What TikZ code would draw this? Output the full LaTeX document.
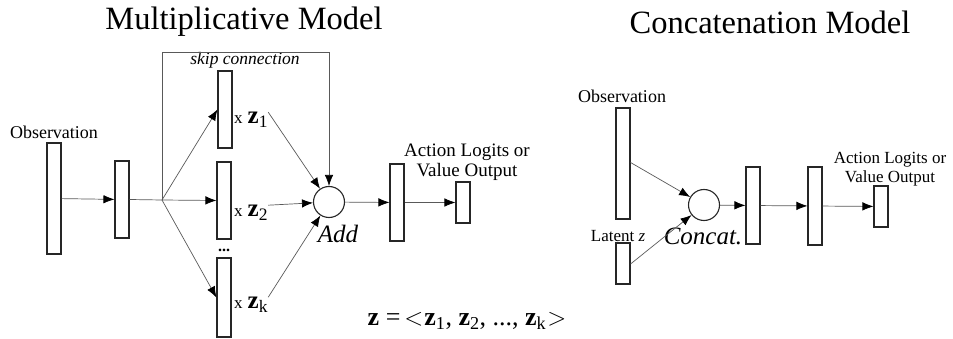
\documentclass[tikz,border=0pt]{standalone}
\usepackage{fontspec}
\setmainfont{Liberation Serif}
\usepackage{tikz}
\usetikzlibrary{arrows.meta}

\tikzset{
  layer/.style={draw=black!85, line width=1.1pt, minimum width=14pt, inner sep=0pt},
  joint/.style={draw=black!85, line width=1.1pt, circle, minimum size=31pt, inner sep=0pt},
  link/.style={draw=black!65, line width=0.7pt},
  arr/.style={link, -{Latex[length=11pt,width=8.5pt,black]}},
  lbl/.style={inner sep=0pt, font=\fontsize{18}{20}\selectfont, align=center},
  zlbl/.style={inner sep=0pt, anchor=west},
}
\newcommand{\zmul}[1]{{\fontsize{17}{17}\selectfont x}\hspace{5pt}{\fontsize{25}{25}\selectfont\textbf{z}\textsubscript{#1}}}
\newcommand{\angl}[1]{{\fontsize{36}{36}\selectfont$#1$}}

\begin{document}
\begin{tikzpicture}[x=1pt,y=-1pt]
    \useasboundingbox (0,0) rectangle (953,339);
    % multiplicative model
    \node[inner sep=0pt, font=\fontsize{32.5}{34}\selectfont] (titleA) at (244,22) {Multiplicative Model};
    \node[layer, minimum height=111pt] (obsA) at (54,198.5) {};
    \node[lbl] (obsAl) at (54,132) {Observation};
    \node[layer, minimum height=77pt] (hidA) at (122,199.5) {};
    \coordinate (branch) at (162,200);
    \coordinate (skip) at (162,52);
    \node[layer, minimum height=77pt] (zA1) at (225,109.5) {};
    \node[layer, minimum height=77pt] (zA2) at (224,200.5) {};
    \node[layer, minimum height=79pt] (zAk) at (224,297.5) {};
    \node[inner sep=0pt, font=\bfseries\fontsize{16}{16}\selectfont] (dots) at (224,250) {...};
    \node[zlbl] (lz1) at (234,120) {\zmul{1}};
    \node[zlbl] (lz2) at (234,213) {\zmul{2}};
    \node[zlbl] (lzk) at (234,305) {\zmul{k}};
    \node[joint] (addA) at (329,202) {};
    \node[inner sep=0pt, font=\itshape\fontsize{25}{25}\selectfont] (addAl) at (338,234) {Add};
    \node[inner sep=0pt, font=\itshape\fontsize{17.5}{17.5}\selectfont] (skipl) at (245,60) {skip connection};
    \node[layer, minimum height=77pt] (hA) at (397,202.5) {};
    \node[layer, minimum height=41pt] (outA) at (463,202.5) {};
    \node[lbl, font=\fontsize{19}{20}\selectfont] (outAl) at (467,162) {Action Logits or\\Value Output};

    \draw[arr] (obsA) -- (hidA);
    \draw[link] (hidA.east) -- (branch);
    \draw[arr] (branch) -- (zA1.west);
    \draw[arr] (branch) -- (zA2.west);
    \draw[arr] (branch) -- (zAk.west);
    \draw[arr] (branch) -- (skip) -| (addA);
    \draw[arr] (lz1.north east) -- (addA);
    \draw[arr] (lz2.north east) -- (addA);
    \draw[arr] (lzk.north east) -- (addA);
    \draw[arr] (addA) -- (hA);
    \draw[arr] (hA) -- (outA);

    \node[inner sep=0pt, font=\fontsize{26}{26}\selectfont] (zdef) at (467,321)
        {\textbf{z} =\hspace{4pt}\angl{<}\hspace{1pt}\textbf{z}\textsubscript{1}, \textbf{z}\textsubscript{2}, ..., \textbf{z}\textsubscript{k}\hspace{1pt}\angl{>}};

    % concatenation model
    \node[inner sep=0pt, font=\fontsize{32.5}{34}\selectfont] (titleB) at (770,22) {Concatenation Model};
    \node[layer, minimum height=111pt] (obsB) at (623,163.5) {};
    \node[lbl] (obsBl) at (622,96) {Observation};
    \node[layer, minimum height=41pt] (latB) at (623,263.5) {};
    \node[lbl, font=\fontsize{17}{19}\selectfont] (latBl) at (618,236) {Latent \textit{z}};
    \node[joint] (catB) at (704,205) {};
    \node[inner sep=0pt, font=\itshape\fontsize{25}{25}\selectfont] (catBl) at (703,236) {Concat.};
    \node[layer, minimum height=77pt] (hB1) at (753,205.5) {};
    \node[layer, minimum height=78pt] (hB2) at (815,206) {};
    \node[layer, minimum height=41pt] (outB) at (881,206.5) {};
    \node[lbl, font=\fontsize{17}{19}\selectfont] (outBl) at (890,169) {Action Logits or\\Value Output};

    \draw[arr] ([yshift=1pt]obsB.east) -- (catB);
    \draw[arr] ([yshift=-0.5pt]latB.east) -- (catB);
    \draw[arr] (catB) -- (hB1);
    \draw[arr] (hB1) -- (hB2);
    \draw[arr] (hB2) -- (outB);
\end{tikzpicture}
\end{document}
